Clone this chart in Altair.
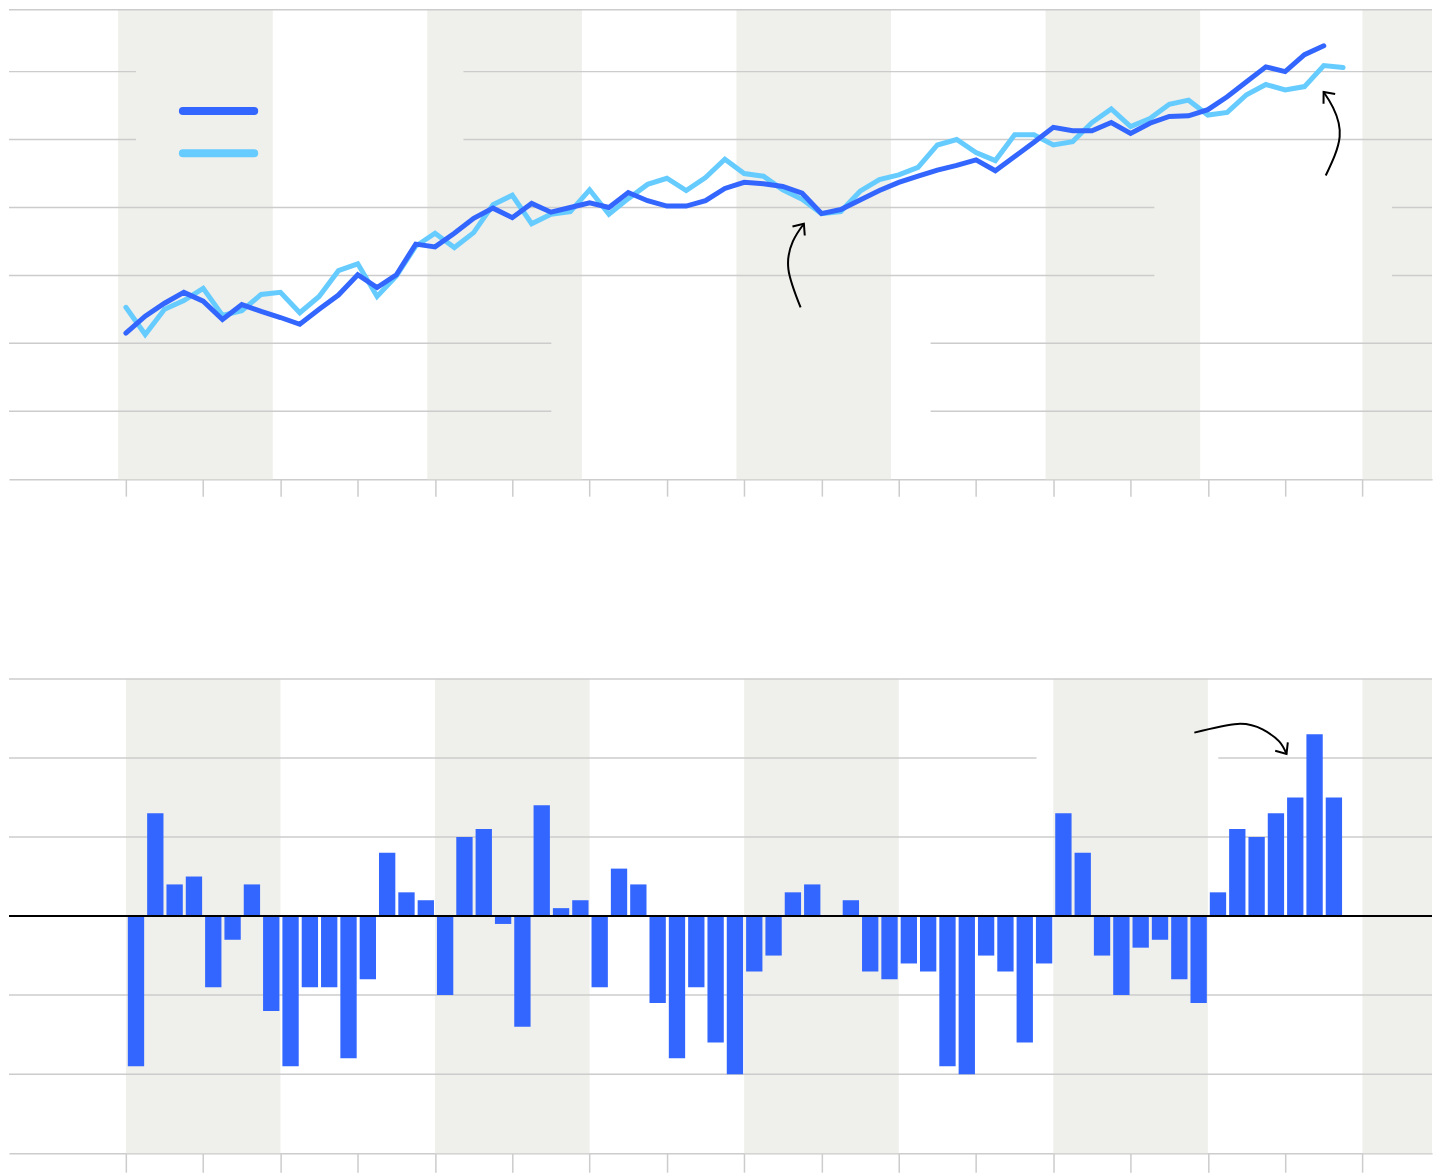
import altair as alt
import pandas as pd

# ---------------- data (quarter index 0..63) ----------------
dark_vals = [21.5, 24.0, 25.9, 27.5, 26.2, 23.5, 25.7, 24.7, 23.8, 22.8,
             25.0, 27.1, 30.1, 28.2, 30.1, 34.6, 34.2, 36.2, 38.4, 39.9,
             38.5, 40.6, 39.3, 40.0, 40.7, 40.0, 42.2, 41.0, 40.2, 40.2,
             41.0, 42.8, 43.7, 43.5, 43.1, 42.1, 39.1, 39.7, 41.1, 42.5,
             43.7, 44.6, 45.5, 46.2, 47.0, 45.4, 47.5, 49.6, 51.8, 51.3,
             51.3, 52.5, 50.9, 52.4, 53.4, 53.5, 54.4, 56.3, 58.5, 60.7,
             60.0, 62.5, 63.8]
light_vals = [25.3, 21.3, 25.0, 26.3, 28.1, 24.1, 24.8, 27.2, 27.5, 24.5,
              26.9, 30.7, 31.7, 26.9, 29.9, 34.3, 36.2, 34.1, 36.3, 40.4,
              41.8, 37.6, 39.0, 39.4, 42.6, 39.0, 41.3, 43.4, 44.3, 42.5,
              44.4, 47.1, 45.0, 44.6, 42.6, 41.2, 39.1, 39.4, 42.4, 44.1,
              44.8, 45.9, 49.2, 50.0, 48.1, 46.9, 50.7, 50.7, 49.2, 49.7,
              52.5, 54.5, 51.9, 53.1, 55.2, 55.8, 53.6, 54.0, 56.6, 58.1,
              57.3, 57.8, 60.9, 60.6]
bar_vals = [-1.9, 1.3, 0.4, 0.5, -0.9, -0.3, 0.4, -1.2, -1.9, -0.9,
            -0.9, -1.8, -0.8, 0.8, 0.3, 0.2, -1.0, 1.0, 1.1, -0.1,
            -1.4, 1.4, 0.1, 0.2, -0.9, 0.6, 0.4, -1.1, -1.8, -0.9,
            -1.6, -2.0, -0.7, -0.5, 0.3, 0.4, 0.0, 0.2, -0.7, -0.8,
            -0.6, -0.7, -1.9, -2.0, -0.5, -0.7, -1.6, -0.6, 1.3, 0.8,
            -0.5, -1.0, -0.4, -0.3, -0.8, -1.1, 0.3, 1.1, 1.0, 1.3,
            1.5, 2.3, 1.5]

X_MIN, X_MAX = -6.05, 67.6
TOP_MAX = 69.1
tick_values = list(range(0, 65, 4))

band_top_start = [-0.4, 15.6, 31.6, 47.6, 64.0]
band_top_end = [7.6, 23.6, 39.6, 55.6, X_MAX]
band_bot_start = [0, 16, 32, 48, 64]
band_bot_end = [8, 24, 40, 56, X_MAX]

# gridline segments (value, from, to) - gaps where labels used to sit
top_grid_y = [10, 10, 20, 20, 30, 30, 40, 40, 50, 50, 60, 60, TOP_MAX]
top_grid_x0 = [X_MIN, 41.65, X_MIN, 41.65, X_MIN, 65.53, X_MIN, 65.53, X_MIN, 17.47, X_MIN, 17.47, X_MIN]
top_grid_x1 = [22.02, X_MAX, 22.02, X_MAX, 53.23, X_MAX, 53.23, X_MAX, 0.52, X_MAX, 0.52, X_MAX, X_MAX]
bot_grid_y = [3, 2, 2, 1, -1, -2]
bot_grid_x0 = [X_MIN, X_MIN, 56.54, X_MIN, X_MIN, X_MIN]
bot_grid_x1 = [X_MAX, 47.13, X_MAX, X_MAX, X_MAX, X_MAX]

# legend swatches
legend_x = [2.95, 6.64]
legend_dark_y = 54.2
legend_light_y = 48.0

# annotation arrows (x in quarters, y in data units), last point = tip
arrow1_x = [34.92, 34.29, 34.52, 35.09]
arrow1_y = [25.3, 30.9, 35.0, 37.6]
arrow2_x = [62.10, 62.82, 62.48, 61.99]
arrow2_y = [44.7, 50.4, 54.7, 57.0]
arrow3_x = [55.30, 57.53, 58.83, 59.69, 60.07]
arrow3_y = [2.32, 2.43, 2.36, 2.21, 2.05]
arrow_tip_angle = [36, 320, 146]

# ---------------- styles ----------------
DARK = "#3366ff"
LIGHT = "#66ccff"
GRID = "#cccccc"
BAND = "#efefeb"

x_scale = alt.Scale(domain=[X_MIN, X_MAX], nice=False, zero=False)


def x_axis(tick_len):
    return alt.Axis(values=tick_values, labels=False, ticks=True, tickSize=tick_len,
                    tickColor=GRID, tickWidth=1.5, domain=True, domainColor=GRID,
                    domainWidth=1.5, grid=False, title=None, minExtent=0, maxExtent=tick_len)


y_top = alt.Scale(domain=[0, TOP_MAX], nice=False, zero=False)
y_bot = alt.Scale(domain=[-3, 3], nice=False, zero=False)


def make_x(tick_len):
    def X(field):
        return alt.X(field, type="quantitative", scale=x_scale, axis=x_axis(tick_len))
    return X


def Y(field, sc):
    return alt.Y(field, type="quantitative", scale=sc, axis=None)


# ---------------- tables ----------------
dark_df = pd.DataFrame({"q": list(range(len(dark_vals))), "v": dark_vals})
light_df = pd.DataFrame({"q": list(range(len(light_vals))), "v": light_vals})
bar_df = pd.DataFrame({"q": list(range(len(bar_vals))), "v": bar_vals})
bar_df["x0"] = bar_df["q"] + 0.1
bar_df["x1"] = bar_df["q"] + 0.945
bar_df["zero"] = 0.0

band_top_df = pd.DataFrame({"x0": band_top_start, "x1": band_top_end, "y0": 0.0, "y1": TOP_MAX})
band_bot_df = pd.DataFrame({"x0": band_bot_start, "x1": band_bot_end, "y0": -3.0, "y1": 3.0})
grid_top_df = pd.DataFrame({"y": top_grid_y, "x0": top_grid_x0, "x1": top_grid_x1})
grid_bot_df = pd.DataFrame({"y": bot_grid_y, "x0": bot_grid_x0, "x1": bot_grid_x1})
zero_df = pd.DataFrame({"y": [0.0], "x0": [X_MIN], "x1": [X_MAX]})
legend_df = pd.DataFrame({
    "x": legend_x + legend_x,
    "y": [legend_dark_y] * 2 + [legend_light_y] * 2,
    "s": ["dark", "dark", "light", "light"],
})


def arrow_df(xs, ys):
    return pd.DataFrame({"x": xs, "y": ys, "k": list(range(len(xs)))})


a1 = arrow_df(arrow1_x, arrow1_y)
a2 = arrow_df(arrow2_x, arrow2_y)
a3 = arrow_df(arrow3_x, arrow3_y)
tips_top = pd.DataFrame({"x": [arrow1_x[-1], arrow2_x[-1]], "y": [arrow1_y[-1], arrow2_y[-1]],
                         "a": arrow_tip_angle[:2]})
tips_bot = pd.DataFrame({"x": [arrow3_x[-1]], "y": [arrow3_y[-1]], "a": arrow_tip_angle[2:]})

CHEVRON = "M-0.85,1L0,0L0.85,1"

# ---------------- top panel ----------------
Xt = make_x(17)
bands_t = alt.Chart(band_top_df).mark_rect(color=BAND).encode(
    x=Xt("x0"), x2="x1", y=Y("y0", y_top), y2="y1")
grid_t = alt.Chart(grid_top_df).mark_rule(color=GRID, strokeWidth=1.5).encode(
    x=Xt("x0"), x2="x1", y=Y("y", y_top))
light_line = alt.Chart(light_df).mark_line(color=LIGHT, strokeWidth=5, strokeCap="round").encode(
    x=Xt("q"), y=Y("v", y_top))
dark_line = alt.Chart(dark_df).mark_line(color=DARK, strokeWidth=5, strokeCap="round").encode(
    x=Xt("q"), y=Y("v", y_top))
legend_lines = alt.Chart(legend_df).mark_line(strokeWidth=8, strokeCap="round").encode(
    x=Xt("x"), y=Y("y", y_top), detail="s:N",
    color=alt.Color("s:N", scale=alt.Scale(domain=["dark", "light"], range=[DARK, LIGHT]), legend=None))
arr1 = alt.Chart(a1).mark_line(color="black", strokeWidth=2, interpolate="natural").encode(
    x=Xt("x"), y=Y("y", y_top), order="k:Q")
arr2 = alt.Chart(a2).mark_line(color="black", strokeWidth=2, interpolate="natural").encode(
    x=Xt("x"), y=Y("y", y_top), order="k:Q")
heads_t = alt.Chart(tips_top).mark_point(shape=CHEVRON, size=320, filled=False, color="black",
                                         strokeWidth=2, opacity=1).encode(
    x=Xt("x"), y=Y("y", y_top), angle=alt.Angle("a:Q", scale=None))

top = alt.layer(bands_t, grid_t, light_line, dark_line, legend_lines, arr1, arr2, heads_t).properties(
    width=1425, height=470)

# ---------------- bottom panel ----------------
Xb = make_x(19)
bands_b = alt.Chart(band_bot_df).mark_rect(color=BAND).encode(
    x=Xb("x0"), x2="x1", y=Y("y0", y_bot), y2="y1")
grid_b = alt.Chart(grid_bot_df).mark_rule(color=GRID, strokeWidth=1.5).encode(
    x=Xb("x0"), x2="x1", y=Y("y", y_bot))
bars = alt.Chart(bar_df).mark_bar(color=DARK).encode(
    x=Xb("x0"), x2="x1", y=Y("v", y_bot), y2="zero")
zero_line = alt.Chart(zero_df).mark_rule(color="black", strokeWidth=2).encode(
    x=Xb("x0"), x2="x1", y=Y("y", y_bot))
arr3 = alt.Chart(a3).mark_line(color="black", strokeWidth=2, interpolate="natural").encode(
    x=Xb("x"), y=Y("y", y_bot), order="k:Q")
heads_b = alt.Chart(tips_bot).mark_point(shape=CHEVRON, size=320, filled=False, color="black",
                                         strokeWidth=2, opacity=1).encode(
    x=Xb("x"), y=Y("y", y_bot), angle=alt.Angle("a:Q", scale=None))

bottom = alt.layer(bands_b, grid_b, bars, zero_line, arr3, heads_b).properties(
    width=1425, height=475)

chart = alt.vconcat(top, bottom, spacing=181).properties(
    padding=0, background="white"
).configure_view(strokeWidth=0)

chart.save("out.html", embed_options={"renderer": "svg", "actions": False})
